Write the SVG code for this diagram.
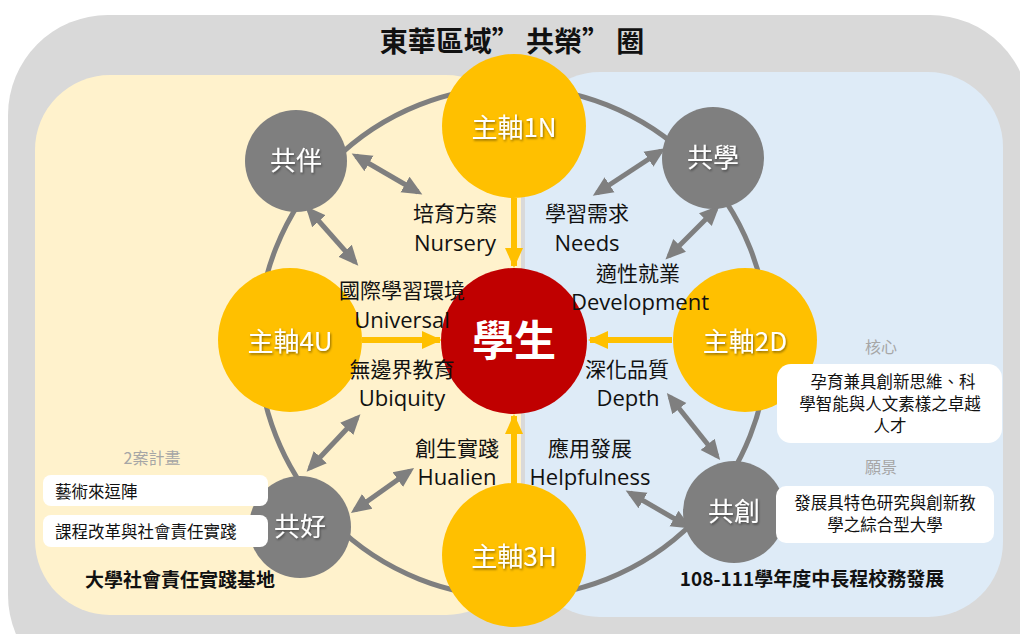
<svg xmlns="http://www.w3.org/2000/svg" width="1020" height="634" viewBox="0 0 1020 634">
<defs>
<style>
.cjk{font-family:"Noto Sans CJK TC","Noto Sans",sans-serif}
.lbl{font-family:"Open Sans","Noto Sans CJK TC",sans-serif;font-size:21px;fill:#111;text-anchor:middle}
.en{font-size:22px}
.gn{fill:#7f7f7f}
.yn{fill:#ffc000}
.gt{font-family:"Noto Sans CJK TC",sans-serif;font-size:26px;fill:#fff;text-anchor:middle;filter:url(#sh)}
.yt{font-family:"Noto Sans CJK TC","Open Sans",sans-serif;font-size:26px;fill:#fff;text-anchor:middle;filter:url(#sh)}
.ga{stroke:#7f7f7f;stroke-width:5;fill:none;marker-start:url(#gh);marker-end:url(#gh)}
.ya{stroke:#ffc000;stroke-width:6;fill:none;marker-end:url(#yh)}
.box{fill:#fff}
.sm{font-family:"Noto Sans CJK TC",sans-serif;font-size:16.5px;fill:#111}
.hd{font-family:"Noto Sans CJK TC",sans-serif;font-size:16px;fill:#a6a6a6;text-anchor:middle}
</style>
<marker id="gh" markerUnits="userSpaceOnUse" markerWidth="22" markerHeight="22" viewBox="0 0 22 22" refX="15" refY="11" orient="auto-start-reverse">
<path d="M0,2 L20,11 L0,20 Z" fill="#7f7f7f"/>
</marker>
<marker id="yh" markerUnits="userSpaceOnUse" markerWidth="22" markerHeight="22" viewBox="0 0 22 22" refX="18" refY="11" orient="auto">
<path d="M0,2 L20,11 L0,20 Z" fill="#ffc000"/>
</marker>
<filter id="sh" x="-10%" y="-10%" width="130%" height="140%">
<feDropShadow dx="1" dy="1.5" stdDeviation="0.8" flood-color="#000" flood-opacity="0.45"/>
</filter>
</defs>

<g id="background">
<rect x="8" y="15" width="1022" height="680" rx="100" fill="#d9d9d9"/>
<rect x="35" y="75" width="486" height="540" rx="75" fill="#fff2cc"/>
<rect x="525" y="72" width="478" height="545" rx="75" fill="#deebf7"/>
<text x="512" y="52" class="cjk" font-size="28" font-weight="bold" fill="#111" text-anchor="middle">東華區域” 共榮” 圈</text>
</g>

<g id="ring">
<circle cx="513" cy="342" r="255" fill="none" stroke="#7f7f7f" stroke-width="5"/>
</g>

<g id="connectors">
<line class="ya" x1="514" y1="198" x2="514" y2="266"/>
<line class="ya" x1="362" y1="340" x2="440" y2="340"/>
<line class="ya" x1="672" y1="340" x2="590" y2="340"/>
<line class="ya" x1="514" y1="484" x2="514" y2="416"/>
<line class="ga" x1="356" y1="156" x2="418" y2="192"/>
<line class="ga" x1="309" y1="210" x2="355" y2="262"/>
<line class="ga" x1="661" y1="151" x2="597" y2="193"/>
<line class="ga" x1="716" y1="209" x2="669" y2="256"/>
<line class="ga" x1="310" y1="468" x2="357" y2="418"/>
<line class="ga" x1="355" y1="510" x2="410" y2="471"/>
<line class="ga" x1="670" y1="397" x2="717" y2="456"/>
<line class="ga" x1="630" y1="493" x2="687" y2="526"/>
</g>

<g id="node-student">
<circle cx="514" cy="341" r="73" fill="#c00000"/>
<text x="514" y="356" class="cjk" font-size="42" font-weight="bold" fill="#fff" text-anchor="middle">學生</text>
</g>
<g id="node-1N">
<circle cx="514" cy="126" r="72" class="yn"/>
<text x="514" y="137" class="yt">主軸1N</text>
</g>
<g id="node-4U">
<circle cx="290" cy="340" r="72" class="yn"/>
<text x="290" y="351" class="yt">主軸4U</text>
</g>
<g id="node-2D">
<circle cx="745" cy="340" r="72" class="yn"/>
<text x="745" y="351" class="yt">主軸2D</text>
</g>
<g id="node-3H">
<circle cx="514" cy="555" r="72" class="yn"/>
<text x="514" y="566" class="yt">主軸3H</text>
</g>

<g id="node-gongban">
<circle cx="296" cy="161" r="51" class="gn"/>
<text x="296" y="170" class="gt">共伴</text>
</g>
<g id="node-gongxue">
<circle cx="713" cy="158" r="51" class="gn"/>
<text x="713" y="167" class="gt">共學</text>
</g>
<g id="node-gonghao">
<circle cx="300" cy="527" r="51" class="gn"/>
<text x="300" y="536" class="gt">共好</text>
</g>
<g id="node-gongchuang">
<circle cx="734" cy="512" r="51" class="gn"/>
<text x="734" y="521" class="gt">共創</text>
</g>

<g id="labels">
<text x="455" y="221" class="lbl">培育方案</text>
<text x="455" y="251" class="lbl en">Nursery</text>
<text x="587" y="221" class="lbl">學習需求</text>
<text x="587" y="251" class="lbl en">Needs</text>
<text x="638" y="281" class="lbl">適性就業</text>
<text x="640" y="310" class="lbl en">Development</text>
<text x="402" y="298" class="lbl">國際學習環境</text>
<text x="402" y="328" class="lbl en">Universal</text>
<text x="402" y="377" class="lbl">無邊界教育</text>
<text x="402" y="406" class="lbl en">Ubiquity</text>
<text x="627" y="377" class="lbl">深化品質</text>
<text x="628" y="406" class="lbl en">Depth</text>
<text x="457" y="456" class="lbl">創生實踐</text>
<text x="457" y="485" class="lbl en">Hualien</text>
<text x="590" y="456" class="lbl">應用發展</text>
<text x="590" y="485" class="lbl en">Helpfulness</text>
</g>

<g id="left-info">
<text x="152" y="464" class="hd">2案計畫</text>
<rect x="43" y="475" width="225" height="31" rx="8" class="box"/>
<text x="55" y="498" class="sm" font-size="17">藝術來逗陣</text>
<rect x="43" y="515" width="225" height="32" rx="8" class="box"/>
<text x="55" y="538" class="sm" font-size="17">課程改革與社會責任實踐</text>
<text x="180" y="587" class="cjk" font-size="19" font-weight="bold" fill="#111" text-anchor="middle">大學社會責任實踐基地</text>
</g>

<g id="right-info">
<text x="881" y="353" class="hd">核心</text>
<rect x="777" y="364" width="225" height="79" rx="14" class="box"/>
<text x="893" y="388" class="sm" text-anchor="middle">孕育兼具創新思維、科</text>
<text x="890" y="410" class="sm" text-anchor="middle">學智能與人文素樣之卓越</text>
<text x="890" y="432" class="sm" text-anchor="middle">人才</text>
<text x="881" y="473" class="hd">願景</text>
<rect x="776" y="486" width="218" height="57" rx="10" class="box"/>
<text x="885" y="509" class="sm" text-anchor="middle">發展具特色研究與創新教</text>
<text x="885" y="531" class="sm" text-anchor="middle">學之綜合型大學</text>
<text x="812" y="586" class="cjk" font-size="19" font-weight="bold" fill="#111" text-anchor="middle">108-111學年度中長程校務發展</text>
</g>
</svg>
